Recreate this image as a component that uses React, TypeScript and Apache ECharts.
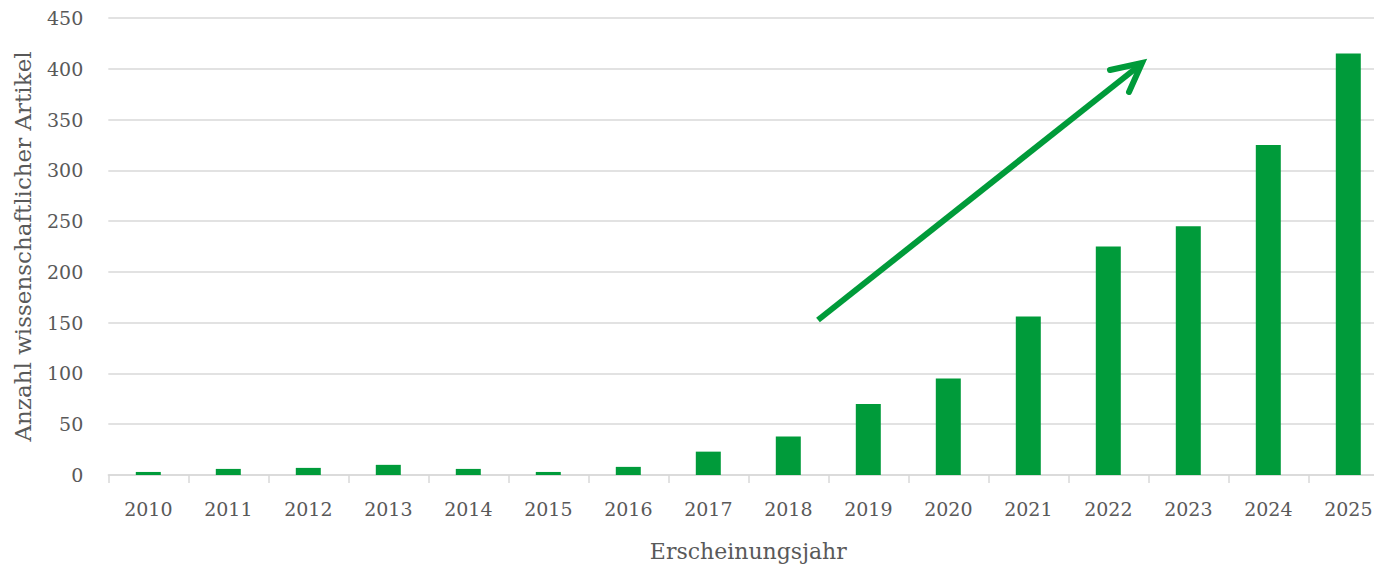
import React, { useEffect, useRef } from "react";
import * as echarts from "echarts";

const categories = ["2010", "2011", "2012", "2013", "2014", "2015", "2016", "2017", "2018", "2019", "2020", "2021", "2022", "2023", "2024", "2025"];
const articleCounts = [3, 6, 7, 10, 6, 3, 8, 23, 38, 70, 95, 156, 225, 245, 325, 415];
const yMin = 0;
const yMax = 450;
const yInterval = 50;

const GREEN = "#009B3A";
const TEXT = "#595959";
const GRIDC = "#D9D9D9";
const FONT = "'Palatino Linotype', 'Book Antiqua', Palatino, 'DejaVu Serif', serif";

export default function App() {
  const ref = useRef<HTMLDivElement>(null);
  useEffect(() => {
    if (!ref.current) return;
    const chart = echarts.init(ref.current, undefined, { renderer: "svg" });
    chart.setOption({
      animation: false,
      backgroundColor: "#ffffff",
      textStyle: { fontFamily: FONT },
      grid: { left: 108.3, right: 11.7, top: 18, bottom: 94, containLabel: false },
      xAxis: {
        type: "category",
        data: categories,
        boundaryGap: true,
        name: "Erscheinungsjahr",
        nameLocation: "middle",
        nameGap: 65,
        nameTextStyle: { fontFamily: FONT, fontSize: 22, color: TEXT },
        axisLine: { show: true, lineStyle: { color: GRIDC, width: 1.5 } },
        axisTick: { show: true, alignWithLabel: false, length: 8, lineStyle: { color: GRIDC, width: 1.5 } },
        axisLabel: { fontFamily: FONT, fontSize: 19, color: TEXT, margin: 24, interval: 0 },
        splitLine: { show: false },
      },
      yAxis: {
        type: "value",
        min: yMin,
        max: yMax,
        interval: yInterval,
        name: "Anzahl wissenschaftlicher Artikel",
        nameLocation: "middle",
        nameGap: 74,
        nameTextStyle: { fontFamily: FONT, fontSize: 23, color: TEXT },
        axisLine: { show: false },
        axisTick: { show: false },
        axisLabel: { fontFamily: FONT, fontSize: 19, color: TEXT, margin: 25 },
        splitLine: { show: true, lineStyle: { color: GRIDC, width: 1.5 } },
      },
      series: [
        {
          type: "bar",
          data: articleCounts,
          barWidth: 25,
          itemStyle: { color: GREEN },
          z: 2,
        },
      ],
      graphic: [
        {
          type: "line",
          shape: { x1: 818, y1: 320, x2: 1140, y2: 65 },
          style: { stroke: GREEN, lineWidth: 6, lineCap: "butt" },
          z: 10,
        },
        {
          type: "polyline",
          shape: { points: [[1110, 70], [1142, 63], [1129, 92]] },
          style: { stroke: GREEN, lineWidth: 6, lineCap: "round", lineJoin: "miter", fill: null },
          z: 10,
        },
      ],
    });
    return () => chart.dispose();
  }, []);
  return (
    <div style={{ position: "fixed", left: 0, top: 0, width: 1374, height: 569, overflow: "hidden", background: "#fff" }}>
      <div ref={ref} style={{ width: 1400, height: 569 }} />
    </div>
  );
}
